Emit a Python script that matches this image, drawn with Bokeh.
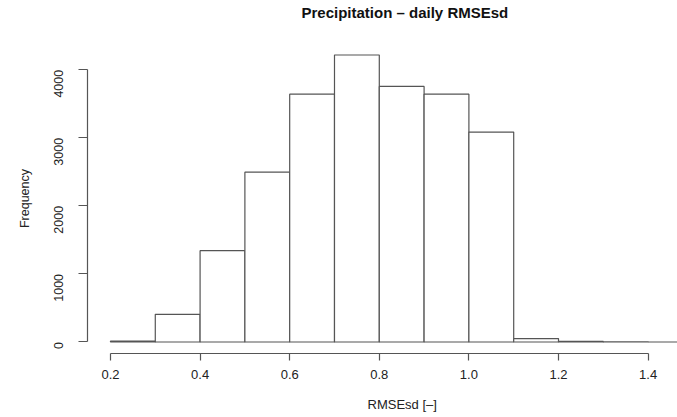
import math
from bokeh.plotting import figure
from bokeh.models import Range1d, Title, FixedTicker
from bokeh.embed import file_html
from bokeh.resources import INLINE

# ---- data ----
bin_edges = [0.2, 0.3, 0.4, 0.5, 0.6, 0.7, 0.8, 0.9, 1.0, 1.1, 1.2, 1.3, 1.4, 1.5]
counts = [15, 407, 1342, 2496, 3642, 4217, 3755, 3642, 3084, 50, 8, 4, 0]
x_ticks = [0.2, 0.4, 0.6, 0.8, 1.0, 1.2, 1.4]
y_ticks = [0, 1000, 2000, 3000, 4000]
title_text = "Precipitation \u2013 daily RMSEsd"
x_label = "RMSEsd [\u2013]"
y_label = "Frequency"

FONT = "Liberation Sans"
LINE = "#555555"

p = figure(width=677, height=417, output_backend="svg", toolbar_location=None,
           title=None,
           x_range=Range1d(0.1487, 1.4656), y_range=Range1d(-169, 4386),
           min_border_left=87, min_border_right=0,
           min_border_top=43, min_border_bottom=64)
p.background_fill_color = "white"
p.border_fill_color = "white"
p.outline_line_color = None
p.grid.visible = False

p.quad(left=bin_edges[:-1], right=bin_edges[1:], top=counts, bottom=0,
       fill_color="white", line_color=LINE, line_width=1.2)

# x axis
xa = p.xaxis[0]
xa.bounds = (x_ticks[0], x_ticks[-1])
xa.ticker = FixedTicker(ticks=x_ticks)
xa.major_label_overrides = {t: f"{t:.1f}" for t in x_ticks}
xa.major_tick_out = 7
xa.major_tick_in = 0
xa.minor_tick_out = 0
xa.minor_tick_in = 0
xa.axis_line_color = LINE
xa.major_tick_line_color = LINE
xa.axis_line_width = 1.2
xa.major_tick_line_width = 1.2
xa.major_label_text_font = FONT
xa.major_label_text_font_size = "13px"
xa.major_label_text_color = "#222222"
xa.major_label_standoff = 9

# y axis
ya = p.yaxis[0]
ya.bounds = (y_ticks[0], y_ticks[-1])
ya.ticker = FixedTicker(ticks=y_ticks)
ya.major_label_orientation = math.pi / 2
ya.major_tick_out = 9
ya.major_tick_in = 0
ya.minor_tick_out = 0
ya.minor_tick_in = 0
ya.axis_line_color = LINE
ya.major_tick_line_color = LINE
ya.axis_line_width = 1.2
ya.major_tick_line_width = 1.2
ya.major_label_text_font = FONT
ya.major_label_text_font_size = "12.5px"
ya.major_label_text_color = "#222222"
ya.major_label_standoff = 20

# top: spacer next to the frame, then the title
p.add_layout(Title(text=" ", text_font_size="10px", standoff=10), "above")
p.add_layout(Title(text=title_text, align="left", offset=214, standoff=0,
                   text_font=FONT, text_font_size="15px", text_font_style="bold",
                   text_color="#111111"), "above")

# bottom: spacer under the axis, then the x title
p.add_layout(Title(text=" ", text_font_size="8px", standoff=2), "below")
p.add_layout(Title(text=x_label, align="left", offset=280, standoff=0,
                   text_font=FONT, text_font_size="13px", text_font_style="normal",
                   text_color="#222222"), "below")

# left: spacer beside the axis, then the y title
p.add_layout(Title(text=" ", text_font_size="8px", standoff=4), "left")
p.add_layout(Title(text=y_label, align="center", standoff=0,
                   text_font=FONT, text_font_size="12.5px", text_font_style="normal",
                   text_color="#222222"), "left")

open("out.html", "w").write(file_html(p, INLINE))
